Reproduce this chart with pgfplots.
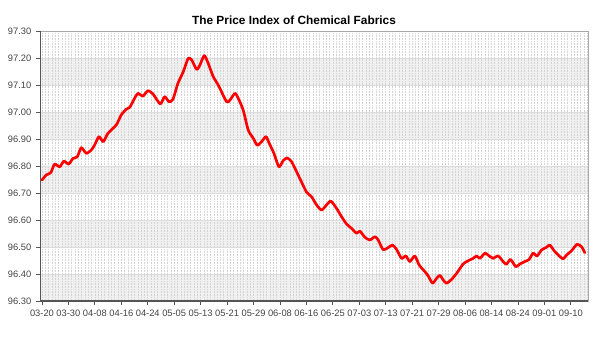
\documentclass[border=0pt]{standalone}
\usepackage{pgfplots}
\pgfplotsset{compat=1.18}
\usepackage{fontspec}
\setmainfont{Liberation Sans}
\definecolor{band}{HTML}{F0F0F0}
\definecolor{vgrid}{HTML}{D4D4D4}
\definecolor{hgrid}{HTML}{DCDCDC}
\definecolor{axdark}{HTML}{555555}
\definecolor{axlight}{HTML}{A8A8A8}
\definecolor{ticktxt}{HTML}{444444}
\begin{document}
\begin{tikzpicture}
\begin{axis}[
  set layers,
  at={(0,0)}, anchor=south west,
  scale only axis, width=411pt, height=202.5pt,
  xmin=-0.6, xmax=165.2, ymin=96.3, ymax=97.3,
  xtick={0,8,...,160},
  xticklabels={03-20,03-30,04-08,04-16,04-24,05-05,05-13,05-21,05-29,06-08,06-16,06-25,07-03,07-13,07-21,07-29,08-06,08-14,08-24,09-01,09-10},
  minor xtick={0,1,...,165},
  ytick={96.3,96.4,...,97.31},
  /pgf/number format/assume math mode=true,
  yticklabel style={/pgf/number format/fixed, /pgf/number format/fixed zerofill, /pgf/number format/precision=2},
  ticklabel style={font=\fontsize{7}{8}\selectfont, text=ticktxt},
  tick pos=left, tick align=outside,
  major tick length=3pt, minor tick length=0pt,
  tick style={axdark, line width=0.6pt},
  xmajorgrids, xminorgrids, ymajorgrids,
  x grid style={vgrid, dash pattern=on 1.2pt off 0.8pt, line width=0.45pt},
  minor x grid style={vgrid, dash pattern=on 1.2pt off 0.8pt, line width=0.45pt},
  y grid style={hgrid, line width=0.4pt},
  axis line style={axlight, line width=0.6pt},
  clip=true,
]
\pgfplotsextra{\begin{pgfonlayer}{axis background}
\fill[band] (axis cs:-0.6,96.3) rectangle (axis cs:165.2,96.4);
\fill[band] (axis cs:-0.6,96.5) rectangle (axis cs:165.2,96.6);
\fill[band] (axis cs:-0.6,96.7) rectangle (axis cs:165.2,96.8);
\fill[band] (axis cs:-0.6,96.9) rectangle (axis cs:165.2,97.0);
\fill[band] (axis cs:-0.6,97.1) rectangle (axis cs:165.2,97.2);
\end{pgfonlayer}}
\addplot[red, line width=2pt, smooth, tension=0.4, line join=round, line cap=round] coordinates {
(0,96.748) (1.30,96.767) (2.63,96.775) (3.84,96.807) (5.35,96.797) (6.65,96.818)
(8.08,96.807) (9.38,96.828) (10.68,96.834) (11.89,96.868) (13.40,96.847) (14.91,96.859)
(15.94,96.878) (17.24,96.909) (18.54,96.890) (19.96,96.921) (22.47,96.952) (23.98,96.989)
(25.50,97.010) (26.53,97.017) (28.04,97.051) (29.04,97.069) (30.55,97.059) (32.06,97.079)
(33.57,97.067) (35.78,97.030) (37.11,97.057) (38.41,97.038) (39.62,97.047) (41.13,97.106)
(42.74,97.149) (44.25,97.199) (45.28,97.193) (46.79,97.158) (47.79,97.174) (49.09,97.209)
(50.30,97.180) (51.81,97.131) (53.32,97.100) (55.86,97.038) (56.86,97.044) (58.37,97.069)
(59.37,97.051) (60.88,97.007) (62.40,96.933) (63.91,96.903) (65.12,96.877) (66.45,96.890)
(67.75,96.909) (68.75,96.884) (70.17,96.847) (71.68,96.797) (72.98,96.820) (74.19,96.830)
(75.52,96.816) (77.03,96.779) (78.55,96.740) (80.06,96.703) (81.57,96.686) (83.08,96.656)
(84.60,96.637) (86.11,96.656) (87.41,96.670) (89.13,96.643) (90.65,96.612) (92.16,96.585)
(93.67,96.569) (95.18,96.551) (96.18,96.559) (97.69,96.536) (99.21,96.526) (100.72,96.538)
(101.72,96.526) (103.23,96.490) (104.74,96.498) (106.07,96.507) (107.28,96.491) (108.79,96.458)
(110.09,96.467) (111.30,96.446) (112.81,96.467) (114.12,96.433) (115.84,96.409) (116.84,96.393)
(118.17,96.366) (119.38,96.384) (120.38,96.395) (121.38,96.378) (122.40,96.366) (123.92,96.380)
(125.43,96.402) (127.43,96.437) (128.94,96.449) (130.45,96.458) (131.48,96.467) (132.48,96.458)
(133.99,96.477) (134.99,96.470) (136.50,96.458) (138.01,96.467) (139.52,96.446) (140.55,96.436)
(141.76,96.454) (143.36,96.427) (144.57,96.437) (146.08,96.446) (147.38,96.454) (148.59,96.477)
(149.80,96.467) (151.14,96.489) (152.65,96.499) (153.65,96.507) (155.16,96.483) (156.47,96.467)
(157.67,96.456) (158.70,96.470) (160.21,96.486) (161.90,96.510) (163.24,96.501) (164.23,96.479)
};
\draw[axdark, line width=1.1pt] (rel axis cs:0,1) -- (rel axis cs:0,0) -- (rel axis cs:1,0);
\end{axis}
\node[font=\bfseries\fontsize{8.9}{10}\selectfont, anchor=center] at (190.5pt,210.75pt) {The Price Index of Chemical Fabrics};
\path (-30pt,-36.75pt) rectangle (420pt,225.75pt);
\end{tikzpicture}
\end{document}
